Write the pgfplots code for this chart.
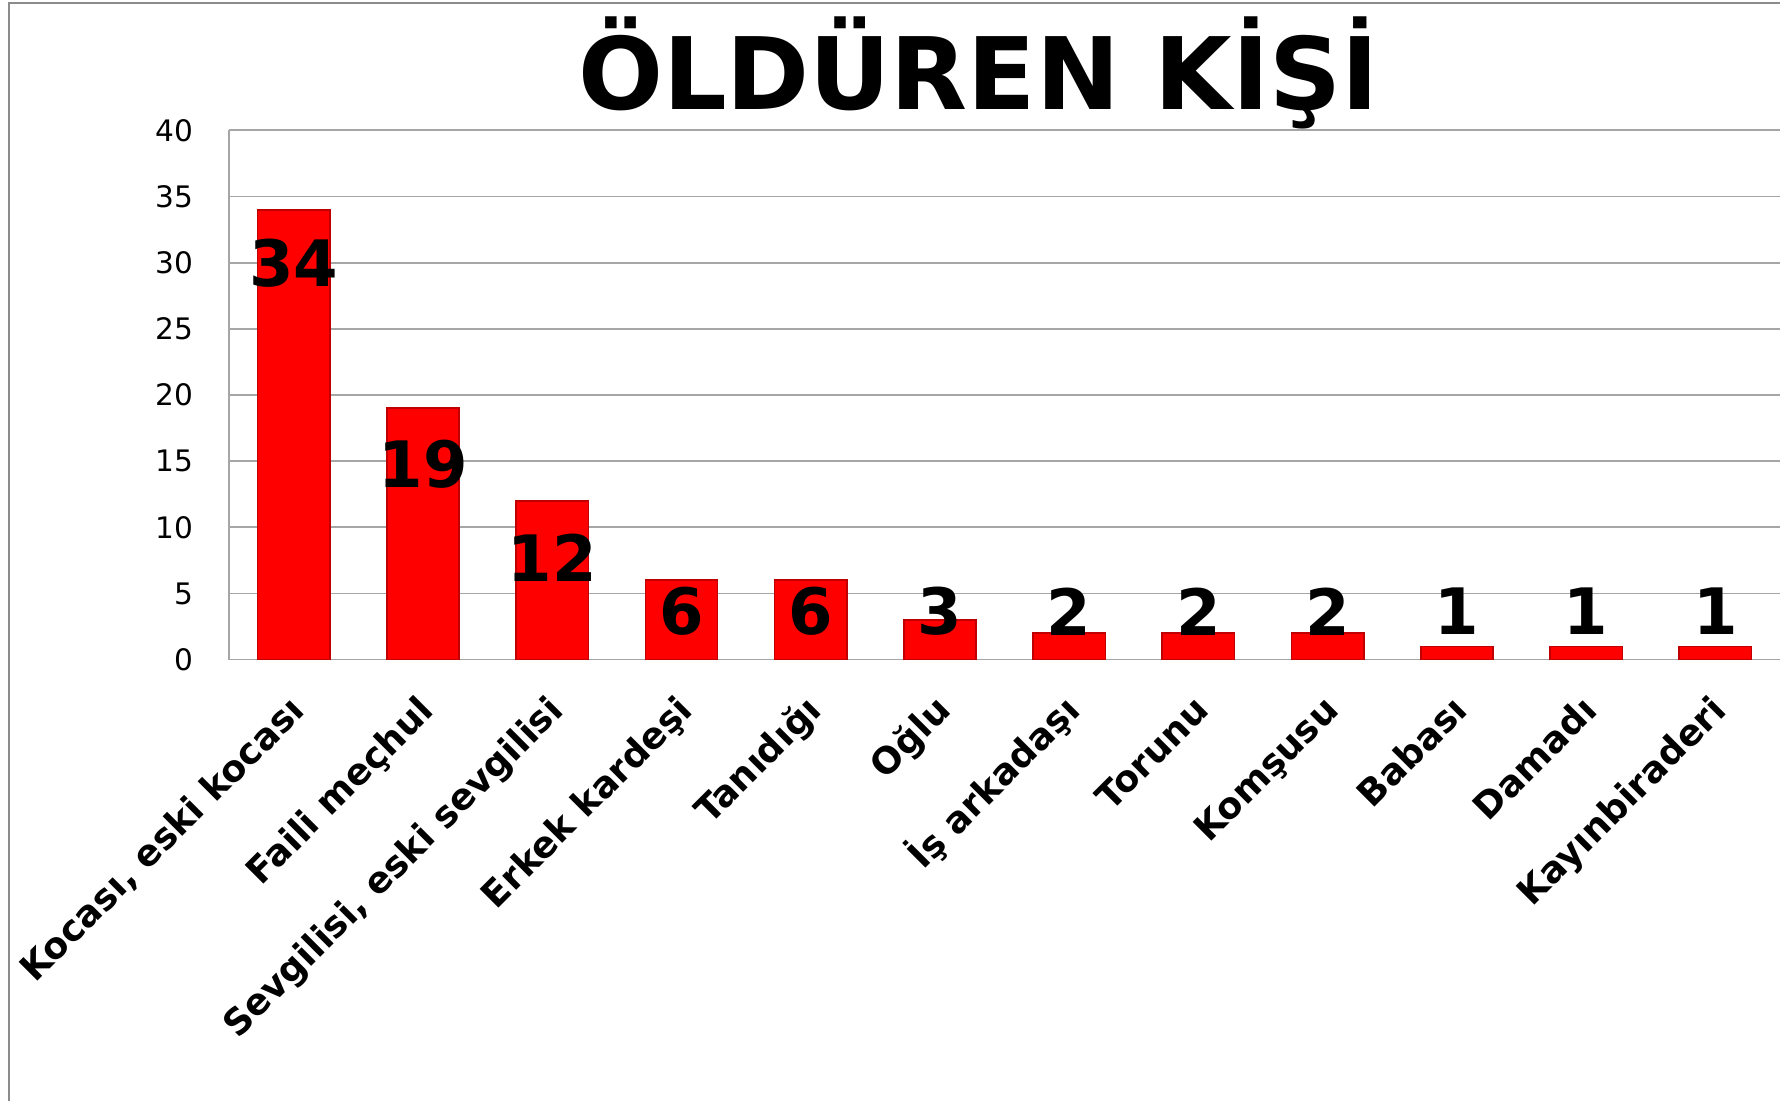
\documentclass[border=0pt]{standalone}
\usepackage{fontspec}
\setmainfont{DejaVu Sans}
\usepackage{pgfplots}
\pgfplotsset{compat=1.18}
\definecolor{barred}{HTML}{FF0000}
\definecolor{baredge}{HTML}{C00000}
\definecolor{gridgray}{HTML}{A6A6A6}
\definecolor{framegray}{HTML}{8C8C8C}
\begin{document}
\begin{tikzpicture}
\useasboundingbox (-57.3pt,-110.35pt) rectangle (387.7pt,164.9pt);
\fill[white] (-57.3pt,-110.35pt) rectangle (387.7pt,164.9pt);
\draw[framegray, line width=0.6pt] (-55.1pt,-111pt) -- (-55.1pt,164.15pt) -- (390pt,164.15pt);
\begin{axis}[
  at={(0,0)}, anchor=south west,
  scale only axis,
  width=387.7pt, height=132.3pt,
  xmin=-0.5, xmax=11.5, ymin=0, ymax=40,
  ytick={0,5,...,40},
  xtick={0,...,11},
  xticklabels={{Kocası, eski kocası},{Faili meçhul},{Sevgilisi, eski sevgilisi},{Erkek kardeşi},{Tanıdığı},{Oğlu},{İş arkadaşı},{Torunu},{Komşusu},{Babası},{Damadı},{Kayınbiraderi}},
  axis x line*=bottom, axis y line*=left,
  axis line style={draw=gridgray, line width=0.45pt, -},
  ymajorgrids, grid style={draw=gridgray, line width=0.45pt},
  major tick length=0pt,
  /pgf/number format/assume math mode=true,
  yticklabel style={font=\fontsize{7.4}{8}\selectfont, inner sep=0pt, anchor=east, xshift=-8.8pt},
  xticklabel style={font=\fontsize{9.1}{10}\selectfont\bfseries, text height=0.76em, text depth=0pt, inner sep=0pt, xshift=-2.2pt, yshift=-7.6pt, rotate=45, anchor=north east},
  clip=false,
]
\addplot[ybar, bar width=0.56, fill=barred, draw=baredge, line width=0.4pt] coordinates {
  (0,34) (1,19) (2,12) (3,6) (4,6) (5,3) (6,2) (7,2) (8,2) (9,1) (10,1) (11,1)
};
\addplot[draw=none, mark=none, nodes near coords, point meta=explicit symbolic,
  every node near coord/.append style={font=\fontsize{16}{16}\selectfont\bfseries, anchor=center, inner sep=0pt, text=black}]
  coordinates {
  (0,29.98)[34] (1,14.8)[19] (2,7.73)[12] (3,3.65)[6] (4,3.65)[6] (5,3.65)[3]
  (6,3.65)[2] (7,3.65)[2] (8,3.65)[2] (9,3.65)[1] (10,3.65)[1] (11,3.65)[1]
};
\end{axis}
\node[anchor=base, font=\fontsize{25}{25}\selectfont\bfseries] at (187.3pt,137.5pt) {ÖLDÜREN KİŞİ};
\end{tikzpicture}
\end{document}
